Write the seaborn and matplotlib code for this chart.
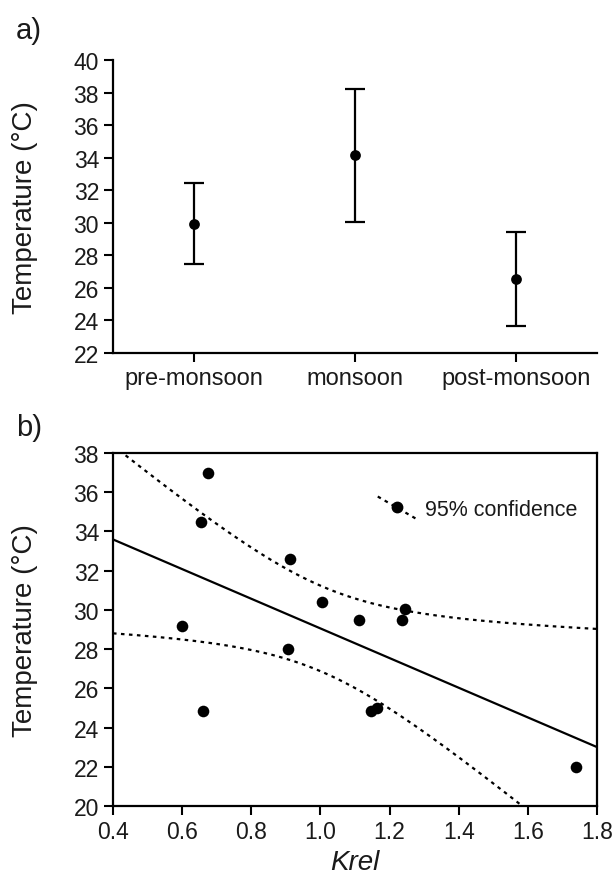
import matplotlib
matplotlib.use("Agg")
import matplotlib.pyplot as plt
import numpy as np
import pandas as pd
import seaborn as sns
from matplotlib.legend_handler import HandlerLine2D
from matplotlib.lines import Line2D
from matplotlib.ticker import FormatStrFormatter


# panel a: seasonal mean temperature with error bars
seasons = ["pre-monsoon", "monsoon", "post-monsoon"]
season_mean = [29.95, 34.14, 26.52]
season_err = [2.50, 4.08, 2.89]

# panel b: temperature against Krel
krel = [0.600, 0.674, 0.654, 0.659, 0.912, 0.907, 1.006,
        1.113, 1.235, 1.246, 1.147, 1.163, 1.738]
temperature = [29.2, 37.0, 34.46, 24.83, 32.58, 28.0, 30.4,
               29.5, 29.5, 30.03, 24.83, 24.98, 22.0]

T_CRIT = 2.201  # t(0.975, df=11)
INK = "#1a1a1a"


class SlopedLineHandler(HandlerLine2D):
    """legend handle drawn as a short descending line"""

    def create_artists(self, legend, orig_handle, xdescent, ydescent,
                       width, height, fontsize, trans):
        artists = super().create_artists(legend, orig_handle, xdescent, ydescent,
                                         width, height, fontsize, trans)
        for art in artists:
            x = np.asarray(art.get_xdata(), float)
            y = np.asarray(art.get_ydata(), float)
            art.set_ydata(y - (x - x.mean()) * 0.58)
        return artists


def style_axis(ax):
    ax.tick_params(axis="both", direction="out", length=6.5, width=1.5,
                   labelsize=16.5, pad=3.5, colors="black", labelcolor=INK)
    for spine in ax.spines.values():
        spine.set_linewidth(1.6)
        spine.set_color("black")


sns.set_theme(style="ticks")
plt.rcParams["font.family"] = ["Liberation Sans", "DejaVu Sans"]
plt.rcParams["text.color"] = INK
plt.rcParams["axes.labelcolor"] = INK

fig = plt.figure(figsize=(6.13, 8.79), dpi=100)
ax_a = fig.add_axes([0.1843, 0.5973, 0.7896, 0.3333])
ax_b = fig.add_axes([0.1843, 0.0819, 0.7896, 0.4016])

# ---- panel a
pos = np.arange(len(seasons))
ax_a.errorbar(pos, season_mean, yerr=season_err, fmt="none", ecolor="black",
              elinewidth=1.6, capsize=7, capthick=1.6)
sns.scatterplot(x=pos, y=season_mean, ax=ax_a, color="black", s=60,
                edgecolor="black", linewidth=0, zorder=3)
ax_a.set_xlim(-0.5, 2.5)
ax_a.set_ylim(22, 40)
ax_a.set_xticks(pos)
ax_a.set_xticklabels(seasons)
ax_a.set_yticks(np.arange(22, 41, 2))
ax_a.spines["top"].set_visible(False)
ax_a.spines["right"].set_visible(False)
style_axis(ax_a)
ax_a.tick_params(axis="x", labelsize=17)
ax_a.set_ylabel("Temperature (°C)", fontsize=20)
ax_a.yaxis.set_label_coords(-0.155, 0.5)

# ---- panel b
df = pd.DataFrame({"krel": krel, "temperature": temperature})
x = df["krel"].to_numpy()
y = df["temperature"].to_numpy()
slope, intercept = np.polyfit(x, y, 1)
resid = y - (slope * x + intercept)
s = np.sqrt(np.sum(resid ** 2) / (len(x) - 2))
sxx = np.sum((x - x.mean()) ** 2)

grid = np.linspace(0.4, 1.8, 200)
fit = slope * grid + intercept
half = T_CRIT * s * np.sqrt(1 / len(x) + (grid - x.mean()) ** 2 / sxx)
lines = pd.DataFrame({"krel": grid, "fit": fit, "upper": fit + half, "lower": fit - half})

sns.lineplot(data=lines, x="krel", y="fit", ax=ax_b, color="black", linewidth=1.6)
for col in ["upper", "lower"]:
    sns.lineplot(data=lines, x="krel", y=col, ax=ax_b, color="black",
                 linewidth=1.6, linestyle=(0, (1.6, 2.0)))
sns.scatterplot(data=df, x="krel", y="temperature", ax=ax_b, color="black",
                s=70, linewidth=0, zorder=3)

ax_b.set_xlim(0.4, 1.8)
ax_b.set_ylim(20, 38)
ax_b.set_xticks(np.arange(0.4, 1.81, 0.2))
ax_b.xaxis.set_major_formatter(FormatStrFormatter("%.1f"))
ax_b.set_yticks(np.arange(20, 39, 2))
style_axis(ax_b)
ax_b.set_xlabel("Krel", fontsize=20, style="italic")
ax_b.set_ylabel("Temperature (°C)", fontsize=20)
ax_b.yaxis.set_label_coords(-0.155, 0.5)
ax_b.xaxis.set_label_coords(0.5, -0.122)

handle = Line2D([], [], color="black", linewidth=1.6, linestyle=(0, (1.6, 2.0)),
                marker="o", markersize=7.5)
ax_b.legend([handle], ["95% confidence"], loc="center left",
            bbox_to_anchor=(0.507, 0.84), frameon=False, fontsize=15.5,
            handlelength=1.75, handletextpad=0.45, numpoints=1,
            handler_map={Line2D: SlopedLineHandler()})

fig.text(0.026, 0.981, "a)", fontsize=21, va="top", ha="left")
fig.text(0.026, 0.529, "b)", fontsize=21, va="top", ha="left")

fig.savefig("out.png", dpi=100)
